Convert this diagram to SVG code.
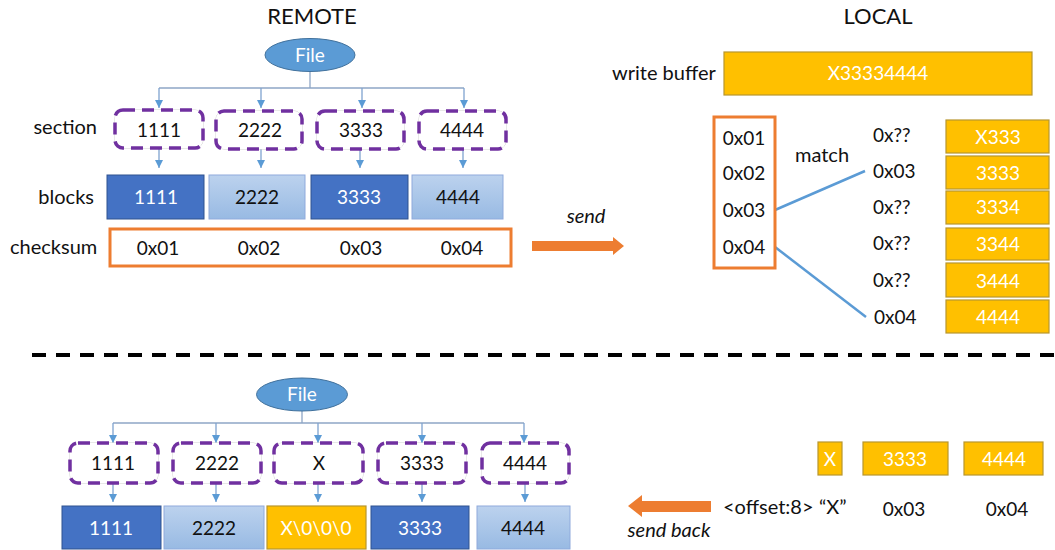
<svg xmlns="http://www.w3.org/2000/svg" width="1055" height="550" viewBox="0 0 1055 550">
<defs>
<linearGradient id="lg" x1="0" y1="0" x2="0" y2="1">
<stop offset="0" stop-color="#BCD2EE"/>
<stop offset="1" stop-color="#98BAE3"/>
</linearGradient>
<marker id="ah" viewBox="0 0 10 10" refX="10" refY="5" markerWidth="8" markerHeight="8" markerUnits="userSpaceOnUse" orient="auto">
<path d="M0,0 L10,5 L0,10 z" fill="#5B9BD5"/>
</marker>
</defs>
<style>
text{font-family:Lato,"Open Sans","Liberation Sans",sans-serif;font-size:19px;fill:#111}
.c{text-anchor:middle}
.e{text-anchor:end}
.w{fill:#fff}
.t{font-size:22px}
.i{font-style:italic;font-size:20px}
.lb{font-size:20px}
.ell{fill:#5B9BD5;stroke:#41719C;stroke-width:1}
.sec{fill:#fff;stroke:#7030A0;stroke-width:3.5;stroke-dasharray:12 7}
.secb{fill:#fff;stroke:#D0D0D0;stroke-width:1}
.dk{fill:#4472C4;stroke:#2F528F;stroke-width:1}
.lt{fill:url(#lg);stroke:#8FAADC;stroke-width:1}
.yl{fill:#FFC000;stroke:#B8962E;stroke-width:1.2}
.or{fill:#fff;stroke:#ED7D31;stroke-width:3}
.ln{fill:none;stroke:#8EA6C6;stroke-width:1.3}
.ar{fill:none;stroke:#7FA3CF;stroke-width:1.3;marker-end:url(#ah)}
.m{fill:none;stroke:#5B9BD5;stroke-width:2.5}
.oa{fill:#ED7D31}
</style>

<text class="c t" x="312" y="24">REMOTE</text>
<text class="c t" x="878" y="24">LOCAL</text>

<g id="connectors">
<path class="ln" d="M310,71 V88 M159,88 H464"/>
<path class="ar" d="M159,88 V108"/>
<path class="ar" d="M261,88 V108"/>
<path class="ar" d="M362,88 V108"/>
<path class="ar" d="M464,88 V108"/>
<path class="ar" d="M159,148 V168"/>
<path class="ar" d="M261,149 V168"/>
<path class="ar" d="M360,149 V168"/>
<path class="ar" d="M463,149 V168"/>
<path class="m" d="M775,210 L865,171"/>
<path class="m" d="M775,247 L866,317"/>
<path class="ln" d="M302,411 V423 M113,423 H524"/>
<path class="ar" d="M113,423 V443"/>
<path class="ar" d="M216,423 V443"/>
<path class="ar" d="M318,423 V443"/>
<path class="ar" d="M422,423 V443"/>
<path class="ar" d="M524,423 V443"/>
<path class="ar" d="M113,483 V502"/>
<path class="ar" d="M216,483 V502"/>
<path class="ar" d="M318,483 V502"/>
<path class="ar" d="M422,483 V502"/>
<path class="ar" d="M525,483 V502"/>
</g>

<g id="file-top">
<ellipse class="ell" cx="310" cy="55" rx="45" ry="16.5"/>
<text class="c w" x="310" y="62" style="font-size:19px">File</text>
</g>

<text class="e lb" x="97" y="134">section</text>
<text class="e lb" x="94" y="204">blocks</text>
<text class="lb" x="10" y="254">checksum</text>

<g id="sec1"><rect class="secb" x="115" y="110" width="88" height="38" rx="8"/><rect class="sec" x="115" y="110" width="88" height="38" rx="8"/><text class="c" x="159" y="137">1111</text></g>
<g id="sec2"><rect class="secb" x="216" y="111" width="86" height="38" rx="8"/><rect class="sec" x="216" y="111" width="86" height="38" rx="8"/><text class="c" x="260" y="137">2222</text></g>
<g id="sec3"><rect class="secb" x="317" y="111" width="87" height="38" rx="8"/><rect class="sec" x="317" y="111" width="87" height="38" rx="8"/><text class="c" x="361" y="137">3333</text></g>
<g id="sec4"><rect class="secb" x="419" y="111" width="87" height="38" rx="8"/><rect class="sec" x="419" y="111" width="87" height="38" rx="8"/><text class="c" x="462" y="137">4444</text></g>

<g id="blk1"><rect class="dk" x="107" y="175" width="97" height="44"/><text class="c w" x="156" y="204">1111</text></g>
<g id="blk2"><rect class="lt" x="209" y="175" width="96" height="44"/><text class="c" x="257" y="204">2222</text></g>
<g id="blk3"><rect class="dk" x="311" y="175" width="97" height="44"/><text class="c w" x="359" y="204">3333</text></g>
<g id="blk4"><rect class="lt" x="412" y="175" width="91" height="44"/><text class="c" x="458" y="204">4444</text></g>

<g id="checksum">
<rect class="or" x="110" y="229" width="401" height="37"/>
<text class="c" x="158" y="255">0x01</text>
<text class="c" x="259" y="255">0x02</text>
<text class="c" x="361" y="255">0x03</text>
<text class="c" x="462" y="255">0x04</text>
</g>

<g id="send">
<path class="oa" d="M532,241 H613 V237 L624,246 L613,255 V251 H532 z"/>
<text class="c i" x="586" y="223">send</text>
</g>

<g id="write-buffer">
<text class="lb" x="612" y="80">write buffer</text>
<rect class="yl" x="724" y="52" width="308" height="43"/>
<text class="c w" x="878" y="80">X33334444</text>
</g>

<g id="local-checksum">
<rect class="or" x="714" y="117" width="61" height="151"/>
<text class="c" x="744" y="145">0x01</text>
<text class="c" x="744" y="180">0x02</text>
<text class="c" x="744" y="217">0x03</text>
<text class="c" x="744" y="254">0x04</text>
</g>
<text class="c lb" x="822" y="162">match</text>

<g id="local-list">
<text x="873" y="142">0x??</text>
<text x="873" y="178">0x03</text>
<text x="873" y="214">0x??</text>
<text x="873" y="250">0x??</text>
<text x="873" y="287">0x??</text>
<text x="874" y="324">0x04</text>
</g>
<g id="r1"><rect class="yl" x="946" y="120" width="103" height="33"/><text class="c w" x="998" y="144">X333</text></g>
<g id="r2"><rect class="yl" x="946" y="156" width="103" height="33"/><text class="c w" x="998" y="180">3333</text></g>
<g id="r3"><rect class="yl" x="946" y="191" width="103" height="33"/><text class="c w" x="998" y="214">3334</text></g>
<g id="r4"><rect class="yl" x="946" y="228" width="103" height="32"/><text class="c w" x="998" y="251">3344</text></g>
<g id="r5"><rect class="yl" x="946" y="263" width="103" height="34"/><text class="c w" x="998" y="288">3444</text></g>
<g id="r6"><rect class="yl" x="946" y="300" width="103" height="33"/><text class="c w" x="998" y="324">4444</text></g>

<line x1="32" y1="355" x2="1055" y2="355" stroke="#000" stroke-width="4" stroke-dasharray="14 10"/>

<g id="file-bottom">
<ellipse class="ell" cx="302" cy="394.5" rx="45.5" ry="16.5"/>
<text class="c w" x="302" y="401" style="font-size:19px">File</text>
</g>

<g id="bsec1"><rect class="secb" x="70" y="443" width="88" height="40" rx="8"/><rect class="sec" x="70" y="443" width="88" height="40" rx="8"/><text class="c" x="113" y="470">1111</text></g>
<g id="bsec2"><rect class="secb" x="173" y="443" width="88" height="40" rx="8"/><rect class="sec" x="173" y="443" width="88" height="40" rx="8"/><text class="c" x="217" y="470">2222</text></g>
<g id="bsec3"><rect class="secb" x="274" y="443" width="89" height="40" rx="8"/><rect class="sec" x="274" y="443" width="89" height="40" rx="8"/><text class="c" x="319" y="470">X</text></g>
<g id="bsec4"><rect class="secb" x="378" y="443" width="88" height="40" rx="8"/><rect class="sec" x="378" y="443" width="88" height="40" rx="8"/><text class="c" x="422" y="470">3333</text></g>
<g id="bsec5"><rect class="secb" x="482" y="443" width="87" height="40" rx="8"/><rect class="sec" x="482" y="443" width="87" height="40" rx="8"/><text class="c" x="525" y="470">4444</text></g>

<g id="bblk1"><rect class="dk" x="62" y="506" width="99" height="43"/><text class="c w" x="111" y="535">1111</text></g>
<g id="bblk2"><rect class="lt" x="164" y="506" width="100" height="43"/><text class="c" x="214" y="535">2222</text></g>
<g id="bblk3"><rect class="yl" x="267" y="506" width="99" height="43"/><text class="c w" x="316" y="535">X\0\0\0</text></g>
<g id="bblk4"><rect class="dk" x="371" y="506" width="98" height="43"/><text class="c w" x="420" y="535">3333</text></g>
<g id="bblk5"><rect class="lt" x="477" y="506" width="93" height="43"/><text class="c" x="523" y="535">4444</text></g>

<g id="bx"><rect class="yl" x="818" y="442" width="24" height="33"/><text class="c w" x="830" y="466">X</text></g>
<g id="b3333"><rect class="yl" x="863" y="442" width="85" height="33"/><text class="c w" x="905" y="466">3333</text></g>
<g id="b4444"><rect class="yl" x="964" y="442" width="79" height="33"/><text class="c w" x="1004" y="466">4444</text></g>

<g id="send-back">
<path class="oa" d="M711,501 H642 V495 L628,506 L642,517 V512 H711 z"/>
<text class="c i" x="669" y="537">send back</text>
</g>
<text class="lb" x="723" y="514">&lt;offset:8&gt;</text>
<text class="lb" x="819" y="514">“X”</text>
<text class="c" x="904" y="516">0x03</text>
<text class="c" x="1007" y="516">0x04</text>
</svg>
